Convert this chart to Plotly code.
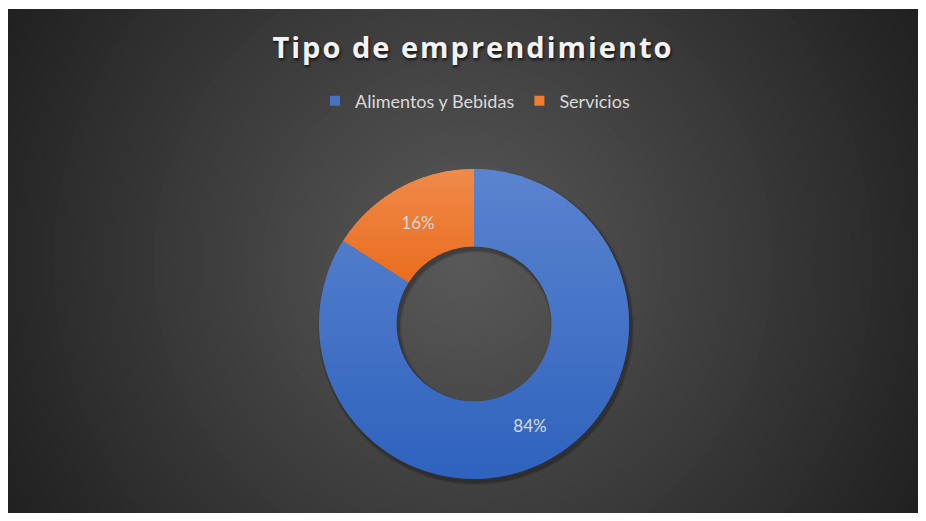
import numpy as np
import plotly.graph_objects as go

# Data
categories = ["Alimentos y Bebidas", "Servicios"]
values = [84, 16]
colors = ["#4472C4", "#ED7D31"]
title_text = "Tipo de emprendimiento"

# vertical shading of each slice (top colour, bottom colour)
shade_top = [(91, 132, 208), (240, 138, 75)]
shade_bottom = [(47, 99, 190), (233, 109, 30)]

W, H = 926, 521
left, top, right, bottom = 8, 9, 918, 513
cx_bg, cy_bg = (left + right) / 2, (top + bottom) / 2
pie_cx, pie_cy, r_out, r_in = 474, 324, 155, 77.5
pie_alpha = 0.5


def px_x(x):
    return x / W


def px_y(y):
    return 1 - y / H


def hex_rgb(h):
    h = h.lstrip("#")
    return tuple(int(h[i:i + 2], 16) for i in (0, 2, 4))


def to_path(pts):
    return "M" + " L".join(f"{x:.2f},{y:.2f}" for x, y in pts) + " Z"


def clip_half(poly, y_lim, keep_above):
    out = []
    n = len(poly)
    for i in range(n):
        p, q = poly[i], poly[(i + 1) % n]
        pin = p[1] >= y_lim if keep_above else p[1] <= y_lim
        qin = q[1] >= y_lim if keep_above else q[1] <= y_lim
        if pin:
            out.append(p)
        if pin != qin:
            t = (y_lim - p[1]) / (q[1] - p[1])
            out.append((p[0] + t * (q[0] - p[0]), y_lim))
    return out


def sector_poly(a0, a1, ro, ri, n=160):
    # angles measured clockwise from 12 o'clock; y points up
    t = np.linspace(a0, a1, n)
    outer = [(ro * np.sin(a), ro * np.cos(a)) for a in t]
    inner = [(ri * np.sin(a), ri * np.cos(a)) for a in t[::-1]]
    return outer + inner


shapes = []
anchor = dict(xref="paper", yref="paper", xsizemode="pixel", ysizemode="pixel")

# radial gradient background made of concentric bands
for r in range(540, 0, -10):
    b = int(max(32, min(92, 90 - 57 * r / 520)))
    shapes.append(dict(
        type="circle", layer="below", **anchor,
        xanchor=px_x(cx_bg), yanchor=px_y(cy_bg),
        x0=-r, x1=r, y0=-r, y1=r,
        fillcolor=f"rgb({b},{b},{b})", line=dict(width=0),
    ))

# soft drop shadow under the donut
for dr, alpha in [(3, 0.10), (1.5, 0.18)]:
    ring = sector_poly(0, 2 * np.pi, r_out + dr, 0, 200)[:200]
    hole = sector_poly(0, 2 * np.pi, r_in - dr, 0, 200)[:200][::-1]
    shapes.append(dict(
        type="path", layer="below", **anchor,
        xanchor=px_x(pie_cx + 2), yanchor=px_y(pie_cy + 3),
        path=to_path(ring) + " " + to_path(hole),
        fillcolor=f"rgba(0,0,0,{alpha})", line=dict(width=0),
    ))

# vertical colour shading under each (semi-transparent) slice
total = sum(values)
start = 0.0
for i, v in enumerate(values):
    a0 = 2 * np.pi * start / total
    a1 = 2 * np.pi * (start + v) / total
    start += v
    poly = sector_poly(a0, a1, r_out, r_in)
    ys = [p[1] for p in poly]
    y_hi, y_lo = max(ys), min(ys)
    base = np.array(hex_rgb(colors[i]), float)
    c_top = np.array(shade_top[i], float)
    c_bot = np.array(shade_bottom[i], float)
    nb = 40
    edges = np.linspace(y_hi, y_lo, nb + 1)
    for k in range(nb):
        f = (k + 0.5) / nb
        target = c_top * (1 - f) + c_bot * f
        under = np.clip((target - pie_alpha * base) / (1 - pie_alpha), 0, 255)
        part = clip_half(poly, edges[k] + 0.6, keep_above=False)
        part = clip_half(part, edges[k + 1] - 0.6, keep_above=True)
        if len(part) < 3:
            continue
        shapes.append(dict(
            type="path", layer="below", **anchor,
            xanchor=px_x(pie_cx), yanchor=px_y(pie_cy),
            path=to_path(part),
            fillcolor="rgb({},{},{})".format(*under.astype(int)),
            line=dict(width=0),
        ))

# white frame around the dark panel
for x0, y0, x1, y1 in [(0, 0, W, top), (0, bottom, W, H), (0, 0, left, H), (right, 0, W, H)]:
    shapes.append(dict(
        type="rect", layer="below", xref="paper", yref="paper",
        x0=px_x(x0), x1=px_x(x1), y0=px_y(y1), y1=px_y(y0),
        fillcolor="white", line=dict(width=0),
    ))

slice_colors = ["rgba({},{},{},{})".format(*hex_rgb(c), pie_alpha) for c in colors]

fig = go.Figure()
fig.add_trace(go.Pie(
    labels=categories,
    values=values,
    hole=r_in / r_out,
    sort=False,
    direction="clockwise",
    rotation=0,
    marker=dict(colors=slice_colors, line=dict(width=0)),
    texttemplate="%{percent:.0%}",
    textposition="inside",
    insidetextorientation="horizontal",
    insidetextfont=dict(family="Lato, sans-serif", size=17, color="#d9d9d9"),
    domain=dict(x=[px_x(pie_cx - r_out), px_x(pie_cx + r_out)],
                y=[px_y(pie_cy + r_out), px_y(pie_cy - r_out)]),
    hoverinfo="label+percent",
    showlegend=False,
))

# legend keys with solid square swatches
for name, col in zip(categories, colors):
    fig.add_trace(go.Scatter(
        x=[None], y=[None], mode="markers", name=name,
        marker=dict(symbol="square", size=10, color=col),
        hoverinfo="skip",
    ))

fig.update_layout(
    width=W, height=H,
    margin=dict(l=0, r=0, t=0, b=0),
    paper_bgcolor="white",
    plot_bgcolor="rgba(0,0,0,0)",
    xaxis=dict(visible=False),
    yaxis=dict(visible=False),
    shapes=shapes,
    title=dict(
        text=f'<span style="letter-spacing:2px">{title_text}</span>',
        x=px_x(473), xanchor="center",
        y=px_y(48), yanchor="middle",
        font=dict(family="Open Sans, sans-serif", size=29, color="#f2f2f2",
                  weight="bold", shadow="1px 2px 3px rgba(0,0,0,0.7)"),
    ),
    legend=dict(
        orientation="h",
        x=px_x(475), xanchor="center",
        y=px_y(101), yanchor="middle",
        font=dict(family="Lato, sans-serif", size=18, color="#d9d9d9"),
        bgcolor="rgba(0,0,0,0)",
        traceorder="normal",
        itemwidth=30,
    ),
)

fig.write_html("out.html")
